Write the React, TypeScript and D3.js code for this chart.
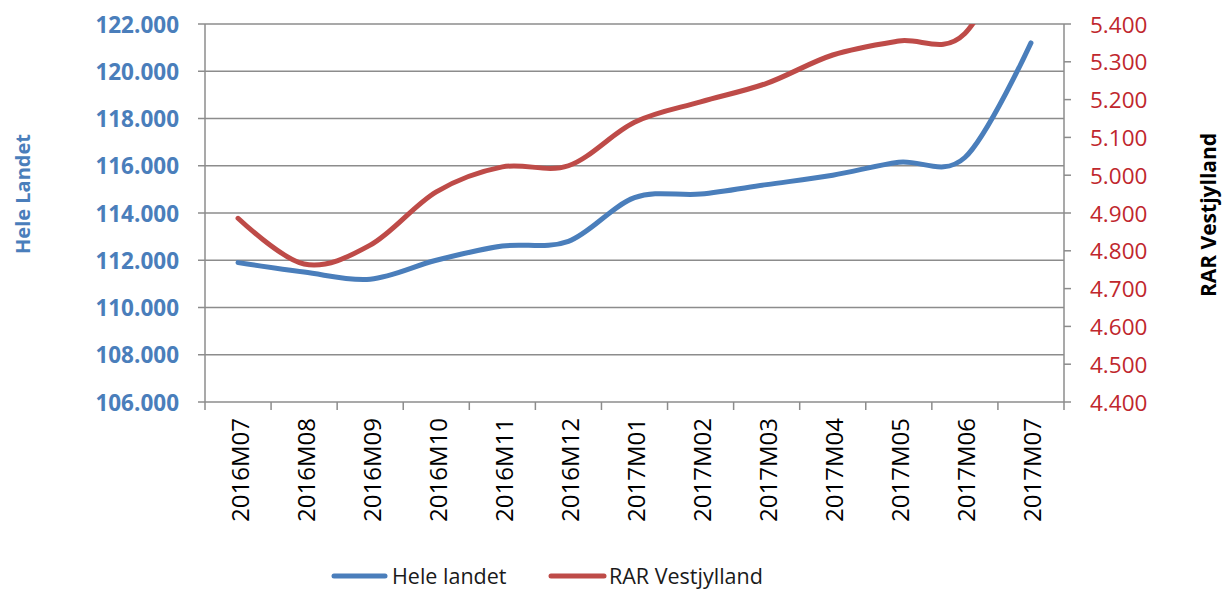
import React from "react";
import * as d3 from "d3";

const categories = ["2016M07","2016M08","2016M09","2016M10","2016M11","2016M12","2017M01","2017M02","2017M03","2017M04","2017M05","2017M06","2017M07"];
const heleLandet = [111900, 111500, 111200, 112000, 112600, 112800, 114650, 114800, 115200, 115600, 116150, 116350, 121200];
const rarVestjylland = [4886, 4765, 4815, 4956, 5022, 5025, 5140, 5194, 5243, 5318, 5355, 5375, 5700];
const leftTicks = [106000, 108000, 110000, 112000, 114000, 116000, 118000, 120000, 122000];
const rightTicks = [4400, 4500, 4600, 4700, 4800, 4900, 5000, 5100, 5200, 5300, 5400];
const seriesNames = ["Hele landet", "RAR Vestjylland"];

const W = 1223, H = 590;
const left = 205, right = 1064, top = 24, bottom = 402;
const BLUE = "#4A7EBB";
const RED = "#BE4B48";
const FONT = "'Open Sans', sans-serif";

const locale = d3.formatLocale({ decimal: ",", thousands: ".", grouping: [3], currency: ["", ""] });
const fmt = locale.format(",d");

export default function App() {
  const x = d3.scaleBand().domain(categories).range([left, right]).padding(0);
  const yL = d3.scaleLinear().domain([106000, 122000]).range([bottom, top]);
  const yR = d3.scaleLinear().domain([4400, 5400]).range([bottom, top]);
  const cx = (c: string) => (x(c) as number) + x.bandwidth() / 2;

  const lineL = d3.line<number>().x((_, i) => cx(categories[i])).y(d => yL(d)).curve(d3.curveCardinal.tension(0));
  const lineR = d3.line<number>().x((_, i) => cx(categories[i])).y(d => yR(d)).curve(d3.curveCardinal.tension(0));

  const bounds = [left, ...categories.map(c => (x(c) as number) + x.bandwidth())];

  return (
    <svg width={W} height={H} style={{ position: "absolute", left: 0, top: 0, background: "#fff" }}>
      <defs>
        <clipPath id="plotclip">
          <rect x={left} y={top} width={right - left} height={bottom - top + 10} />
        </clipPath>
      </defs>
      {leftTicks.map(t => (
        <line key={"g" + t} x1={left - 7} x2={right} y1={yL(t)} y2={yL(t)} stroke="#8c8c8c" strokeWidth={1.5} />
      ))}
      {rightTicks.map(t => (
        <line key={"rt" + t} x1={right} x2={right + 7} y1={yR(t)} y2={yR(t)} stroke="#8c8c8c" strokeWidth={1.5} />
      ))}
      <line x1={left} x2={left} y1={top} y2={bottom} stroke="#8c8c8c" strokeWidth={1.5} />
      <line x1={right} x2={right} y1={top} y2={bottom} stroke="#8c8c8c" strokeWidth={1.5} />
      {bounds.map((b, i) => (
        <line key={"xt" + i} x1={b} x2={b} y1={bottom} y2={bottom + 8} stroke="#8c8c8c" strokeWidth={1.5} />
      ))}
      {leftTicks.map(t => (
        <text key={"lt" + t} x={179} y={yL(t)} textAnchor="end" dominantBaseline="central" fill={BLUE} fontFamily={FONT} fontWeight={700} fontSize={22.5}>{fmt(t)}</text>
      ))}
      {rightTicks.map(t => (
        <text key={"rl" + t} x={1090} y={yR(t)} textAnchor="start" dominantBaseline="central" fill="#C0272D" fontFamily={FONT} fontSize={22.5}>{fmt(t)}</text>
      ))}
      {categories.map(c => (
        <text key={"c" + c} transform={`translate(${cx(c) + 1},418) rotate(-90)`} textAnchor="end" dominantBaseline="central" fill="#000" fontFamily={FONT} fontSize={24}>{c}</text>
      ))}
      <g clipPath="url(#plotclip)">
        <path d={lineL(heleLandet) || ""} fill="none" stroke={BLUE} strokeWidth={5} strokeLinecap="round" />
        <path d={lineR(rarVestjylland) || ""} fill="none" stroke={RED} strokeWidth={5} strokeLinecap="round" />
      </g>
      <text transform="translate(22,194) rotate(-90)" textAnchor="middle" dominantBaseline="central" fill={BLUE} fontFamily={FONT} fontWeight={700} fontSize={20}>Hele Landet</text>
      <text transform="translate(1208,215) rotate(-90)" textAnchor="middle" dominantBaseline="central" fill="#000" fontFamily={FONT} fontWeight={700} fontSize={21}>RAR Vestjylland</text>
      <line x1={334} x2={385} y1={576} y2={576} stroke={BLUE} strokeWidth={5} strokeLinecap="round" />
      <text x={392} y={575} dominantBaseline="central" fill="#1a1a1a" fontFamily={FONT} fontSize={21.5}>{seriesNames[0]}</text>
      <line x1={551} x2={604} y1={576} y2={576} stroke={RED} strokeWidth={5} strokeLinecap="round" />
      <text x={609} y={575} dominantBaseline="central" fill="#1a1a1a" fontFamily={FONT} fontSize={21.5}>{seriesNames[1]}</text>
    </svg>
  );
}
